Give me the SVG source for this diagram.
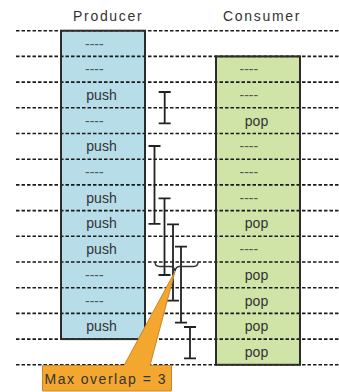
<svg xmlns="http://www.w3.org/2000/svg" width="339" height="392" viewBox="0 0 339 392">
<style>
.hdr{font-family:"Liberation Sans",Arial,sans-serif;font-size:14px;fill:#333;letter-spacing:1.7px}
.cell{font-family:"Liberation Sans",Arial,sans-serif;font-size:14px;fill:#333}
.dash{font-family:"Liberation Sans",Arial,sans-serif;font-size:14px;fill:#555}
.grid{stroke:#1a1a1a;stroke-width:1.6;stroke-dasharray:3.5 2;fill:none}
.box{fill:none;stroke:#2b2b2b;stroke-width:2}
.bar{stroke:#222;stroke-width:1.8;fill:none}
.note{font-family:"Liberation Sans",Arial,sans-serif;font-size:14px;fill:#333;letter-spacing:1.5px}
</style>
<rect width="339" height="392" fill="#fff"/>
<text class="hdr" x="73" y="20.5">Producer</text>
<text class="hdr" x="223" y="20.5">Consumer</text>

<g id="producer">
<rect x="61" y="30.7" width="84" height="308.4" fill="#b7dde8"/>
</g>
<g id="consumer">
<rect x="216" y="56.4" width="84" height="308.4" fill="#d0e4a8"/>
</g>

<g id="grid">
<path class="grid" d="M16,30.7H339M16,56.4H339M16,82.1H339M16,107.8H339M16,133.5H339M16,159.2H339M16,184.9H339M16,210.6H339M16,236.3H339M16,262H339M16,287.7H339M16,313.4H339M16,339.1H339M16,364.8H339"/>
</g>

<g id="producer-cells">
<rect class="box" x="61" y="30.7" width="84" height="308.4"/>
<text class="dash" x="85" y="48.5">----</text>
<text class="dash" x="85" y="74.2">----</text>
<text class="cell" x="101.5" y="99.9" text-anchor="middle">push</text>
<text class="dash" x="85" y="125.6">----</text>
<text class="cell" x="101.5" y="151.3" text-anchor="middle">push</text>
<text class="dash" x="85" y="177">----</text>
<text class="cell" x="101.5" y="202.7" text-anchor="middle">push</text>
<text class="cell" x="101.5" y="228.4" text-anchor="middle">push</text>
<text class="cell" x="101.5" y="254.1" text-anchor="middle">push</text>
<text class="dash" x="85" y="279.8">----</text>
<text class="dash" x="85" y="305.5">----</text>
<text class="cell" x="101.5" y="331.2" text-anchor="middle">push</text>
</g>

<g id="consumer-cells">
<rect class="box" x="216" y="56.4" width="84" height="308.4"/>
<text class="dash" x="239.5" y="74.2">----</text>
<text class="dash" x="239.5" y="99.9">----</text>
<text class="cell" x="256.5" y="125.6" text-anchor="middle">pop</text>
<text class="dash" x="239.5" y="151.3">----</text>
<text class="dash" x="239.5" y="177">----</text>
<text class="dash" x="239.5" y="202.7">----</text>
<text class="cell" x="256.5" y="228.4" text-anchor="middle">pop</text>
<text class="dash" x="239.5" y="254.1">----</text>
<text class="cell" x="256.5" y="279.8" text-anchor="middle">pop</text>
<text class="cell" x="256.5" y="305.5" text-anchor="middle">pop</text>
<text class="cell" x="256.5" y="331.2" text-anchor="middle">pop</text>
<text class="cell" x="256.5" y="356.9" text-anchor="middle">pop</text>
</g>

<g id="connectors">
<path class="bar" d="M158.7,92H170.7M164.7,92V123.3M158.7,123.3H170.7"/>
<path class="bar" d="M148.5,146H160.5M154.5,146V223.8M148.5,223.8H160.5"/>
<path class="bar" d="M158.5,198.3H170.5M164.5,198.3V275M158.5,275H170.5"/>
<path class="bar" d="M167,224.3H179M173,224.3V300.7M167,300.7H179"/>
<path class="bar" d="M175,246.7H187M181,246.7V322.7M175,322.7H187"/>
<path class="bar" d="M184,327H196M190,327V358.3M184,358.3H196"/>
<path fill="none" stroke="#333" stroke-width="1.4" d="M155,262Q155,266.5 159.5,266.5H170.5Q174,266.5 175,271Q176,266.5 179.5,266.5H193.5Q198,266.5 198,262"/>
</g>

<g id="callout">
<path d="M42.5,365.5H124L175,271.5L150,365.5H171.5V391H42.5Z" fill="#f4a72e" stroke="#c8862a" stroke-width="1"/>
<text class="note" x="44.5" y="383.5">Max overlap = 3</text>
</g>
</svg>
